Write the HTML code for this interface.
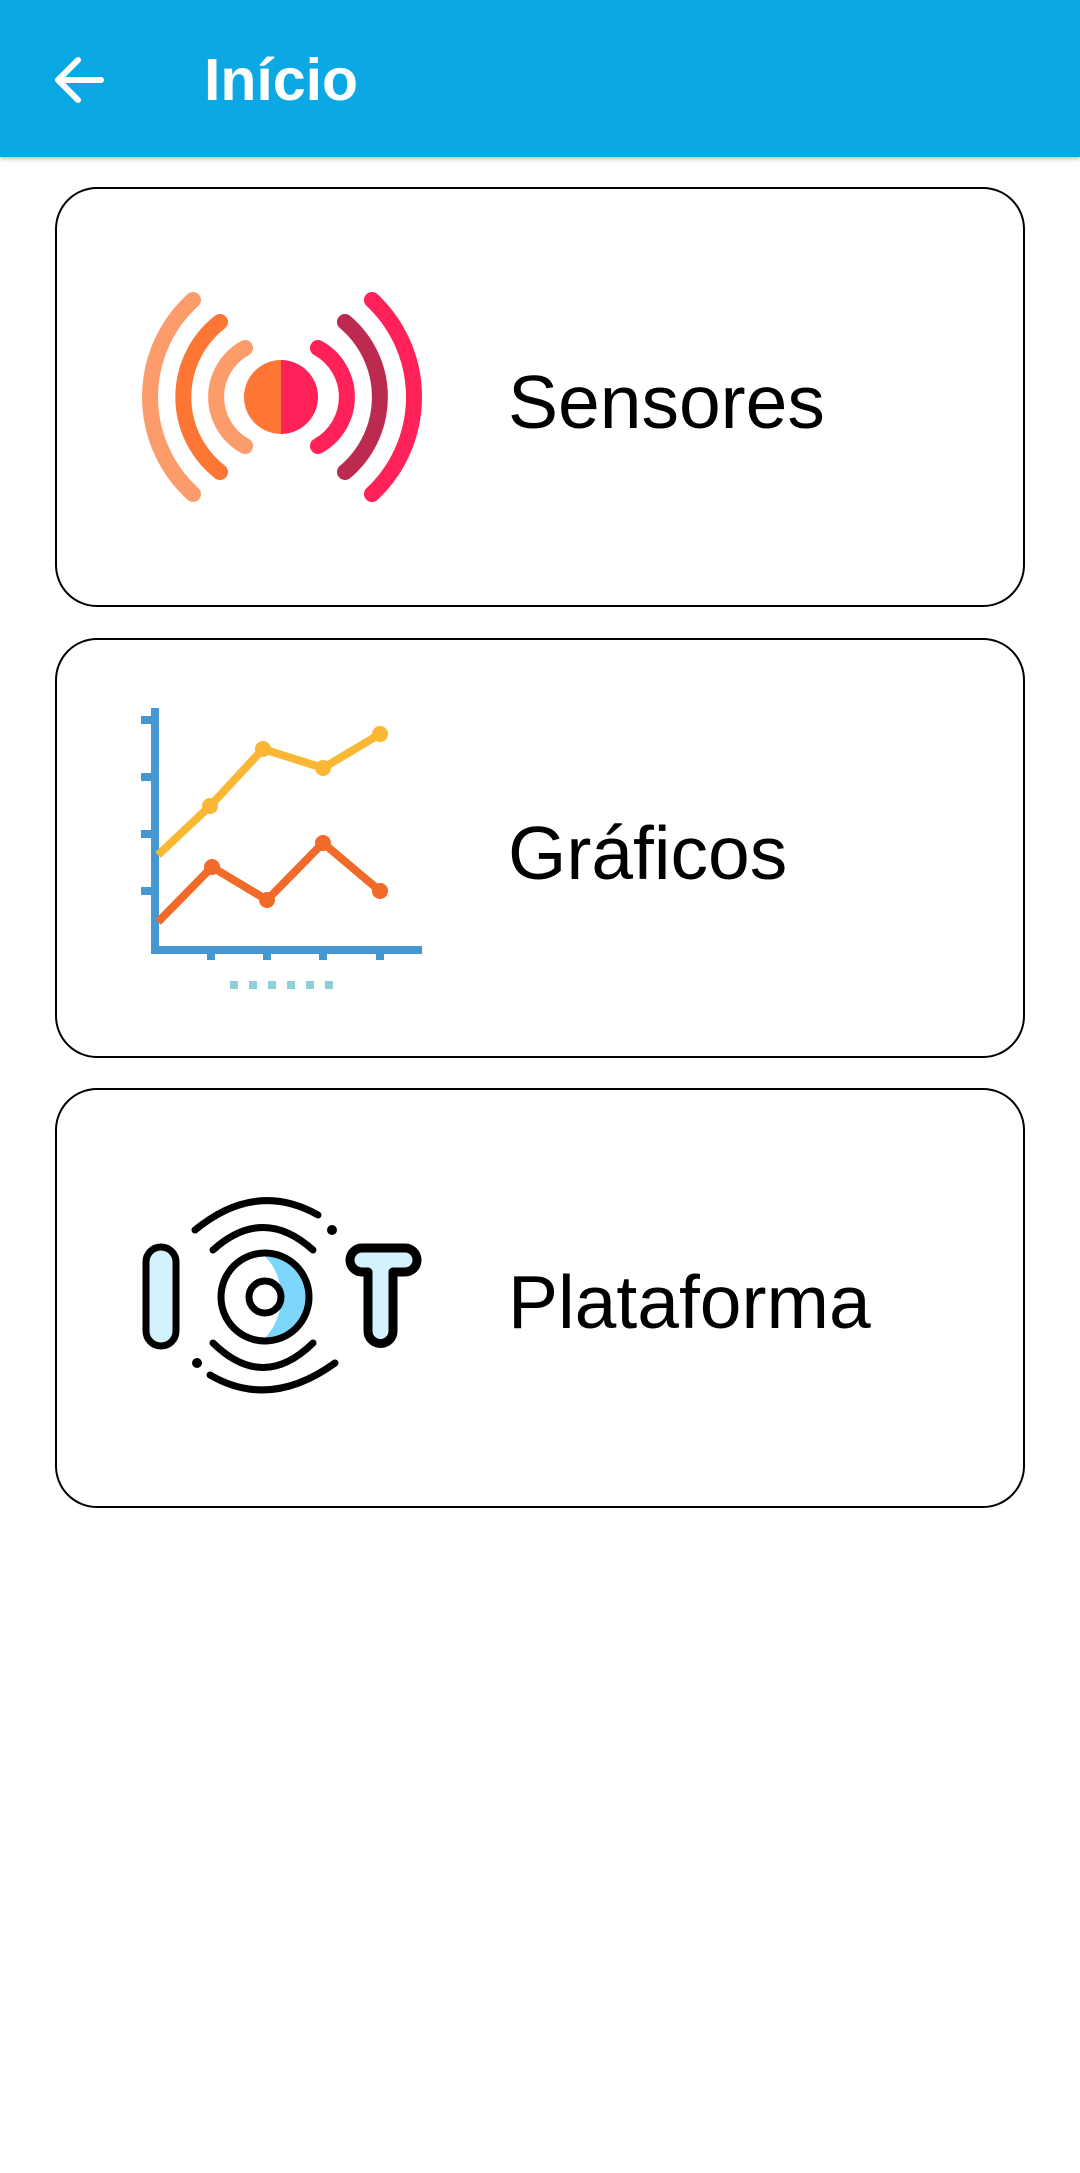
<!DOCTYPE html>
<html><head><meta charset="utf-8"><style>
body{margin:0;width:1080px;height:2173px;background:#fff;position:relative;overflow:hidden;font-family:"Liberation Sans",sans-serif}
.hdr{position:absolute;left:0;top:0;width:1080px;height:157px;background:#0ca8e3;box-shadow:0 2px 4px rgba(0,0,0,.25)}
.title{position:absolute;left:204px;top:46px;color:#fff;font-weight:bold;font-size:59px}
.card{position:absolute;left:55px;width:970px;height:420px;border:2px solid #000;border-radius:42px;box-sizing:border-box}
.lbl{position:absolute;left:508px;font-size:75px;color:#000}
svg{position:absolute;left:0;top:0}
</style></head><body>
<div class="hdr"></div>
<div class="title">Início</div>
<div class="card" style="top:187px"></div>
<div class="card" style="top:638px"></div>
<div class="card" style="top:1088px"></div>
<div class="lbl" style="top:359px">Sensores</div>
<div class="lbl" style="top:810px">Gráficos</div>
<div class="lbl" style="top:1259px">Plataforma</div>
<svg width="1080" height="2173" viewBox="0 0 1080 2173">
<g stroke="#fff" stroke-width="6" fill="none" stroke-linecap="round" stroke-linejoin="round">
<path d="M101,80 H60 M78,60 L58,80 L78,100"/></g>
<g fill="none" stroke-linecap="round" stroke-width="16">
<path d="M193,300 A131,131 0 0 0 193,494" stroke="#fd9c6b"/>
<path d="M220,322 A95,95 0 0 0 220,472" stroke="#fe7634"/>
<path d="M245,348 A56,56 0 0 0 245,446" stroke="#fd9c6b"/>
<path d="M318,348 A56,56 0 0 1 318,446" stroke="#ff2157"/>
<path d="M345,322 A98,98 0 0 1 345,472" stroke="#bd2a4f"/>
<path d="M372,300 A133,133 0 0 1 372,494" stroke="#ff2157"/>
</g>
<path d="M281,360 A37,37 0 0 0 281,434 Z" fill="#fe7634"/>
<path d="M281,360 A37,37 0 0 1 281,434 Z" fill="#ff2157"/>
<g stroke="#4597d2" stroke-width="8" fill="none">
<path d="M155,708 V950 H422"/>
<path d="M141,720h14M141,777h14M141,834h14M141,891h14M211,950v10M267,950v10M323,950v10M380,950v10"/>
</g>
<path d="M230,985 h103" stroke="#8ed0da" stroke-width="8" stroke-dasharray="8,11"/>
<polyline points="158,855 210,806 263,749 323,768 380,734" fill="none" stroke="#fab733" stroke-width="8"/>
<polyline points="158,922 212,867 267,900 323,843 380,891" fill="none" stroke="#f06a2a" stroke-width="8"/>
<g fill="#fab733"><circle cx="210" cy="806" r="8"/><circle cx="263" cy="749" r="8"/><circle cx="323" cy="768" r="8"/><circle cx="380" cy="734" r="8"/></g>
<g fill="#f06a2a"><circle cx="212" cy="867" r="8"/><circle cx="267" cy="900" r="8"/><circle cx="323" cy="843" r="8"/><circle cx="380" cy="891" r="8"/></g>
<path d="M265,1256 A41,41 0 0 1 265,1338 A60,60 0 0 0 265,1256 Z" fill="#7dd6fb"/>
<rect x="146" y="1247" width="30" height="99" rx="15" fill="#d4f2fd" stroke="#000" stroke-width="7"/>
<path d="M362,1248 H405 A12,12 0 0 1 405,1272 H393 V1331 A12.5,12.5 0 0 1 368,1331 V1272 H362 A12,12 0 0 1 362,1248 Z" fill="#d4f2fd" stroke="#000" stroke-width="9" stroke-linejoin="round"/>
<g fill="none" stroke="#000" stroke-width="7" stroke-linecap="round">
<circle cx="265" cy="1297" r="44"/><circle cx="265" cy="1297" r="16"/>
<path d="M195,1230 Q256,1180 318,1215"/>
<path d="M213,1250 Q263,1205 313,1250"/>
<path d="M213,1343 Q263,1392 313,1343"/>
<path d="M210,1375 Q270,1410 335,1363"/>
</g>
<circle cx="332" cy="1230" r="5" fill="#000"/><circle cx="197" cy="1363" r="5" fill="#000"/>
</svg>
</body></html>
